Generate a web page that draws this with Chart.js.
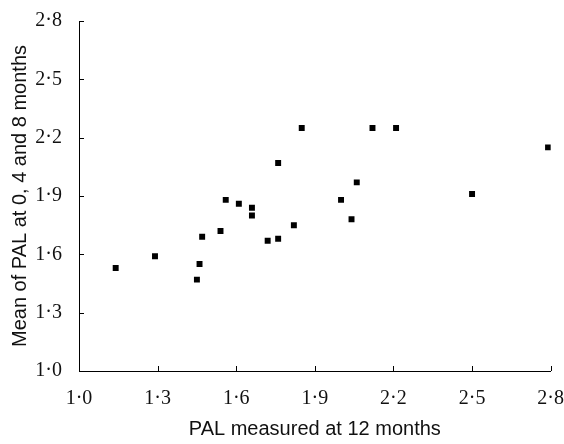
<!DOCTYPE html>
<html>
<head>
<meta charset="utf-8">
<script src="https://cdn.jsdelivr.net/npm/chart.js@4"></script>
<style>
  html, body { margin: 0; padding: 0; background: #fff; }
  #wrap { width: 564px; height: 444px; }
</style>
</head>
<body>
<div id="wrap"><canvas id="chart1"></canvas></div>
<script>
// PAL at 12 months (x) vs mean PAL at 0, 4 and 8 months (y)
const palTwelve = [1.14, 1.29, 1.45, 1.46, 1.47, 1.54, 1.56, 1.61, 1.66, 1.66, 1.72,
                   1.76, 1.76, 1.82, 1.85, 2.00, 2.04, 2.06, 2.12, 2.21, 2.50, 2.79];
const palMean = [1.53, 1.59, 1.47, 1.55, 1.69, 1.72, 1.88, 1.86, 1.84, 1.80, 1.67,
                 2.07, 1.68, 1.75, 2.25, 1.88, 1.78, 1.97, 2.25, 2.25, 1.91, 2.15];
const tickValues = [1.0, 1.3, 1.6, 1.9, 2.2, 2.5, 2.8];

const points = palTwelve.map((x, i) => ({ x: x, y: palMean[i] }));

function fmt(v) {
    return v.toFixed(1).replace('.', '\u00B7');
}

// ticks in the reference point into the plot area
const innerTicks = {
    id: 'innerTicks',
    afterDraw(chart) {
        const ctx = chart.ctx;
        const xs = chart.scales.x, ys = chart.scales.y;
        const area = chart.chartArea;
        ctx.save();
        ctx.strokeStyle = '#000';
        ctx.lineWidth = 1;
        ctx.beginPath();
        tickValues.forEach(function (v) {
            const px = Math.round(xs.getPixelForValue(v)) + 0.5;
            ctx.moveTo(px, area.bottom);
            ctx.lineTo(px, area.bottom - 5);
            const py = Math.round(ys.getPixelForValue(v)) + 0.5;
            ctx.moveTo(area.left, py);
            ctx.lineTo(area.left + 5, py);
        });
        ctx.stroke();
        ctx.restore();
    }
};

const tickFont = { family: '"Liberation Serif", "Times New Roman", serif', size: 20 };
const titleFont = { family: '"Liberation Sans", Arial, sans-serif', size: 20 };

// invisible outer tick marks, only used to space the labels from the axis
function spacer(len) {
    return { display: true, drawOnChartArea: false, drawTicks: true, tickLength: len, color: 'rgba(0,0,0,0)' };
}

const config1 = {
    type: 'scatter',
    data: {
        datasets: [{
            data: points,
            backgroundColor: '#000',
            borderColor: '#000',
            borderWidth: 0,
            pointStyle: 'rect',
            pointRadius: 4.2,
            pointHoverRadius: 4.2
        }]
    },
    options: {
        responsive: true,
        maintainAspectRatio: false,
        animation: false,
        layout: { padding: { top: 21, right: 0, bottom: 0, left: 0 } },
        plugins: {
            legend: { display: false },
            tooltip: { enabled: false }
        },
        scales: {
            x: {
                type: 'linear',
                min: 1.0,
                max: 2.8,
                afterBuildTicks: function (scale) {
                    scale.ticks = tickValues.map(v => ({ value: v }));
                },
                afterFit: function (scale) { scale.height = 73; },
                grid: spacer(16),
                border: { display: true, color: '#000', width: 1 },
                ticks: {
                    color: '#111',
                    font: tickFont,
                    padding: 0,
                    maxRotation: 0,
                    callback: v => fmt(v)
                },
                title: {
                    display: true,
                    text: 'PAL measured at 12 months',
                    color: '#111',
                    font: titleFont,
                    padding: { top: 0, bottom: 3 }
                }
            },
            y: {
                type: 'linear',
                min: 1.0,
                max: 2.8,
                afterBuildTicks: function (scale) {
                    scale.ticks = tickValues.map(v => ({ value: v }));
                },
                afterFit: function (scale) { scale.width = 79; },
                grid: spacer(17),
                border: { display: true, color: '#000', width: 1 },
                ticks: {
                    color: '#111',
                    font: tickFont,
                    padding: 0,
                    callback: v => fmt(v)
                },
                title: {
                    display: true,
                    text: 'Mean of PAL at 0, 4 and 8 months',
                    color: '#111',
                    font: titleFont,
                    padding: { top: 8, bottom: 0 }
                }
            }
        }
    },
    plugins: [innerTicks]
};

var ctx1 = document.getElementById('chart1').getContext('2d');
new Chart(ctx1, config1);
</script>
</body>
</html>
